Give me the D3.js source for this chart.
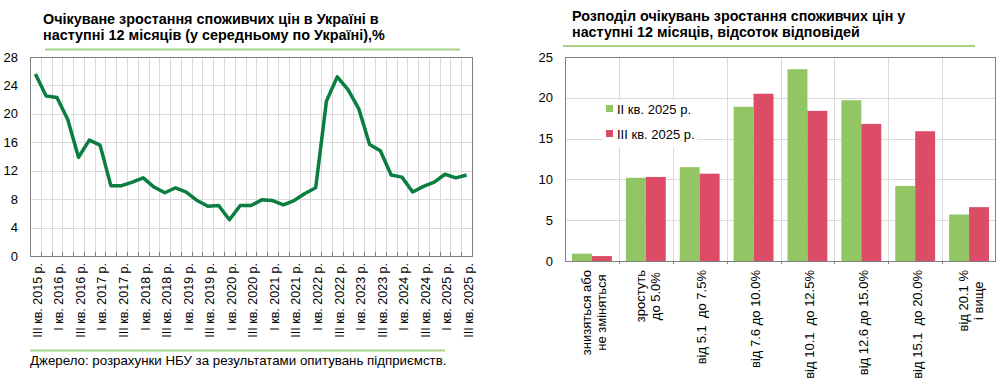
<!DOCTYPE html>
<html>
<head>
<meta charset="utf-8">
<script src="https://cdn.jsdelivr.net/npm/d3@7"></script>
<style>
  body { margin: 0; background: #fff; }
  svg { font-family: "Liberation Sans", Arial, sans-serif; }
</style>
</head>
<body>
<svg id="chart" width="1001" height="387"></svg>
<script>
// left chart: expected inflation, quarterly
var quarters = [
  'III кв. 2015 р.', 'IV кв. 2015 р.',
  'I кв. 2016 р.', 'II кв. 2016 р.', 'III кв. 2016 р.', 'IV кв. 2016 р.',
  'I кв. 2017 р.', 'II кв. 2017 р.', 'III кв. 2017 р.', 'IV кв. 2017 р.',
  'I кв. 2018 р.', 'II кв. 2018 р.', 'III кв. 2018 р.', 'IV кв. 2018 р.',
  'I кв. 2019 р.', 'II кв. 2019 р.', 'III кв. 2019 р.', 'IV кв. 2019 р.',
  'I кв. 2020 р.', 'II кв. 2020 р.', 'III кв. 2020 р.', 'IV кв. 2020 р.',
  'I кв. 2021 р.', 'II кв. 2021 р.', 'III кв. 2021 р.', 'IV кв. 2021 р.',
  'I кв. 2022 р.', 'II кв. 2022 р.', 'III кв. 2022 р.', 'IV кв. 2022 р.',
  'I кв. 2023 р.', 'II кв. 2023 р.', 'III кв. 2023 р.', 'IV кв. 2023 р.',
  'I кв. 2024 р.', 'II кв. 2024 р.', 'III кв. 2024 р.', 'IV кв. 2024 р.',
  'I кв. 2025 р.', 'II кв. 2025 р.', 'III кв. 2025 р.'
];
var expectations = [
  25.6, 22.5, 22.3, 19.2, 13.9, 16.3, 15.6, 9.9, 9.9, 10.4,
  11.0, 9.7, 8.9, 9.6, 9.0, 7.8, 7.0, 7.1, 5.1, 7.1,
  7.1, 7.9, 7.8, 7.2, 7.8, 8.8, 9.6, 21.8, 25.2, 23.4,
  20.7, 15.7, 14.8, 11.4, 11.1, 9.0, 9.8, 10.4, 11.5, 11.0,
  11.4
];
var leftTicks = [0, 4, 8, 12, 16, 20, 24, 28];

// right chart: distribution of answers
var buckets = [
  ['знизяться або', 'не зміняться'],
  ['зростуть', 'до 5.0%'],
  ['від 5.1  до 7.5%'],
  ['від 7.6 до 10.0%'],
  ['від 10.1  до 12.5%'],
  ['від 12.6 до 15.0%'],
  ['від 15.1  до 20.0%'],
  ['від 20.1 %', 'і вище']
];
var seriesNames = ['II кв. 2025 р.', 'III кв. 2025 р.'];
var q2 = [0.9, 10.2, 11.5, 18.9, 23.5, 19.7, 9.2, 5.7];
var q3 = [0.6, 10.3, 10.7, 20.5, 18.4, 16.8, 15.9, 6.6];
var rightTicks = [0, 5, 10, 15, 20, 25];

var colors = ['#92c664', '#dc4c66'];
var svg = d3.select('#chart');

// ---------- left chart ----------
var L = { left: 30, right: 472, top: 57, bottom: 256 };
var xL = d3.scaleBand().domain(d3.range(quarters.length)).range([L.left, L.right]);
var yL = d3.scaleLinear().domain([0, 28]).range([L.bottom, L.top]);

var left = svg.append('g');

left.selectAll('text.title')
  .data(['Очікуване зростання споживчих цін в Україні в', 'наступні 12 місяців (у середньому по Україні),%'])
  .enter().append('text')
    .attr('x', 43)
    .attr('y', (d, i) => 24 + i * 16)
    .attr('font-size', 14.4)
    .attr('font-weight', 'bold')
    .text(d => d);

left.append('line')
  .attr('x1', 45).attr('x2', 460).attr('y1', 49.5).attr('y2', 49.5)
  .attr('stroke', '#a6d386').attr('stroke-width', 2);

// grid
left.selectAll('line.hgrid')
  .data(leftTicks.slice(1, -1))
  .enter().append('line')
    .attr('x1', L.left).attr('x2', L.right)
    .attr('y1', d => Math.round(yL(d)) + 0.5).attr('y2', d => Math.round(yL(d)) + 0.5)
    .attr('stroke', '#dadada');

left.selectAll('line.vgrid')
  .data(d3.range(1, quarters.length))
  .enter().append('line')
    .attr('x1', d => Math.round(xL(d)) + 0.5).attr('x2', d => Math.round(xL(d)) + 0.5)
    .attr('y1', L.top).attr('y2', L.bottom)
    .attr('stroke', '#dadada');

// ticks on the bottom axis, pointing in
left.selectAll('line.tick')
  .data(d3.range(1, quarters.length))
  .enter().append('line')
    .attr('x1', d => Math.round(xL(d)) + 0.5).attr('x2', d => Math.round(xL(d)) + 0.5)
    .attr('y1', L.bottom - 4).attr('y2', L.bottom)
    .attr('stroke', '#808080');

left.append('rect')
  .attr('x', L.left + 0.5).attr('y', L.top + 0.5)
  .attr('width', L.right - L.left).attr('height', L.bottom - L.top)
  .attr('fill', 'none').attr('stroke', '#808080');

left.selectAll('text.ylab')
  .data(leftTicks)
  .enter().append('text')
    .attr('x', 18)
    .attr('y', d => yL(d))
    .attr('dy', '0.35em')
    .attr('text-anchor', 'end')
    .attr('font-size', 13)
    .text(d => d);

var line = d3.line()
  .x((d, i) => xL(i) + xL.bandwidth() / 2)
  .y(d => yL(d));

left.append('path')
  .datum(expectations)
  .attr('d', line)
  .attr('fill', 'none')
  .attr('stroke', '#0a7d40')
  .attr('stroke-width', 3.5)
  .attr('stroke-linejoin', 'round');

// every second quarter gets a label
left.selectAll('text.xlab')
  .data(quarters.filter((d, i) => i % 2 === 0))
  .enter().append('text')
    .attr('transform', (d, i) => 'translate(' + (xL(i * 2) + xL.bandwidth() / 2 + 2) + ',' + 263 + ') rotate(-90)')
    .attr('dy', '0.35em')
    .attr('text-anchor', 'end')
    .attr('font-size', 12.5)
    .text(d => d);

left.append('line')
  .attr('x1', 30).attr('x2', 445).attr('y1', 350.5).attr('y2', 350.5)
  .attr('stroke', '#a6d386').attr('stroke-width', 2);

left.append('text')
  .attr('x', 30).attr('y', 365)
  .attr('font-size', 13.3)
  .text('Джерело: розрахунки НБУ за результатами опитувань підприємств.');

// ---------- right chart ----------
var R = { left: 565, right: 996, top: 57, bottom: 261 };
var x0 = d3.scaleBand().domain(d3.range(buckets.length)).range([R.left, R.right]);
var x1 = d3.scaleBand().domain([0, 1]).range([7, x0.bandwidth() - 7]);
var yR = d3.scaleLinear().domain([0, 25]).range([R.bottom, R.top]);

var right = svg.append('g');

right.selectAll('text.title')
  .data(['Розподіл очікувань зростання споживчих цін у', 'наступні 12 місяців, відсоток відповідей'])
  .enter().append('text')
    .attr('x', 572)
    .attr('y', (d, i) => 21 + i * 16)
    .attr('font-size', 14.3)
    .attr('font-weight', 'bold')
    .text(d => d);

right.append('line')
  .attr('x1', 563).attr('x2', 975).attr('y1', 46).attr('y2', 46)
  .attr('stroke', '#a6d386').attr('stroke-width', 2);

right.selectAll('line.hgrid')
  .data(rightTicks.slice(1, -1))
  .enter().append('line')
    .attr('x1', R.left).attr('x2', R.right)
    .attr('y1', d => Math.round(yR(d)) + 0.5).attr('y2', d => Math.round(yR(d)) + 0.5)
    .attr('stroke', '#dadada');

right.selectAll('line.vgrid')
  .data(d3.range(1, buckets.length))
  .enter().append('line')
    .attr('x1', d => Math.round(x0(d)) + 0.5).attr('x2', d => Math.round(x0(d)) + 0.5)
    .attr('y1', R.top).attr('y2', R.bottom)
    .attr('stroke', '#dadada');

right.selectAll('line.tick')
  .data(d3.range(1, buckets.length))
  .enter().append('line')
    .attr('x1', d => Math.round(x0(d)) + 0.5).attr('x2', d => Math.round(x0(d)) + 0.5)
    .attr('y1', R.bottom).attr('y2', R.bottom + 3)
    .attr('stroke', '#808080');

// bars
var groups = right.selectAll('g.bucket')
  .data(buckets.map((b, i) => [q2[i], q3[i]]))
  .enter().append('g')
    .attr('transform', (d, i) => 'translate(' + x0(i) + ',0)');

groups.selectAll('rect')
  .data(d => d)
  .enter().append('rect')
    .attr('x', (d, j) => x1(j))
    .attr('y', d => yR(d))
    .attr('width', x1.bandwidth())
    .attr('height', d => R.bottom - yR(d))
    .attr('fill', (d, j) => colors[j]);

// legend box
var legend = right.append('g');
legend.append('rect')
  .attr('x', 603).attr('y', 100).attr('width', 94).attr('height', 47)
  .attr('fill', '#fff');
var item = legend.selectAll('g.item')
  .data(seriesNames)
  .enter().append('g')
    .attr('transform', (d, i) => 'translate(606,' + (105 + i * 25) + ')');
item.append('rect')
  .attr('width', 7).attr('height', 7)
  .attr('fill', (d, i) => colors[i]);
item.append('text')
  .attr('x', 11).attr('y', 4)
  .attr('dy', '0.35em')
  .attr('font-size', 13)
  .text(d => d);

right.append('rect')
  .attr('x', R.left + 0.5).attr('y', R.top + 0.5)
  .attr('width', R.right - R.left - 1).attr('height', R.bottom - R.top)
  .attr('fill', 'none').attr('stroke', '#808080');

right.selectAll('text.ylab')
  .data(rightTicks)
  .enter().append('text')
    .attr('x', 553)
    .attr('y', d => yR(d))
    .attr('dy', '0.35em')
    .attr('text-anchor', 'end')
    .attr('font-size', 13)
    .text(d => d);

// rotated category labels, multi-line ones centred as a block
var labels = right.selectAll('g.xlab')
  .data(buckets)
  .enter().append('g')
    .attr('transform', (d, i) => 'translate(' + (x0(i) + x0.bandwidth() / 2 + 2 - (d.length - 1) * 7.5) + ',270) rotate(-90)');

labels.each(function (d) {
  var g = d3.select(this);
  var texts = g.selectAll('text')
    .data(d)
    .enter().append('text')
      .attr('y', (t, k) => k * 15)
      .attr('dy', '0.35em')
      .attr('font-size', 13)
      .style('white-space', 'pre')
      .text(t => t);
  var maxLen = d3.max(texts.nodes(), n => n.getComputedTextLength());
  texts.attr('x', -maxLen / 2).attr('text-anchor', 'middle');
});
</script>
</body>
</html>
